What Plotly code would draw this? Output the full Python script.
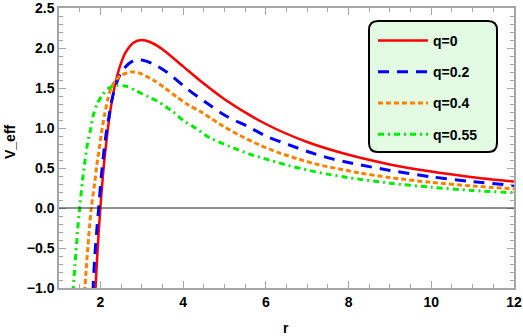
import plotly.graph_objects as go

# ---- data ----
r_q0 = [1.87, 1.9, 1.95, 2.0, 2.05, 2.1, 2.2, 2.3, 2.4, 2.5, 2.6, 2.8, 3.0, 3.2, 3.5, 4.0, 4.5, 5.0, 6.0, 7.0, 8.0, 9.0, 10.0, 11.0, 12.0]
v_q0 = [-1.13, -0.83, -0.38, 0.0, 0.33, 0.61, 1.065, 1.40, 1.64, 1.81, 1.935, 2.065, 2.10, 2.075, 1.985, 1.77, 1.555, 1.36, 1.05, 0.825, 0.665, 0.545, 0.455, 0.385, 0.33]

r_q02 = [1.82, 1.86, 1.91, 1.96, 2.02, 2.08, 2.14, 2.2, 2.27, 2.35, 2.44, 2.55, 2.7, 2.84, 3.0, 3.24, 3.6, 4.12, 4.52, 5.04, 5.56, 6.04, 6.56, 7.04, 7.56, 8.08, 9.0, 10.0, 11.0, 12.0]
v_q02 = [-1.05, -0.65, -0.30, 0.0, 0.38, 0.68, 0.93, 1.12, 1.33, 1.50, 1.63, 1.73, 1.81, 1.85, 1.85, 1.81, 1.70, 1.48, 1.33, 1.15, 1.02, 0.89, 0.79, 0.70, 0.62, 0.56, 0.47, 0.39, 0.33, 0.28]

r_q04 = [1.62, 1.66, 1.70, 1.74, 1.78, 1.86, 1.91, 1.97, 2.03, 2.10, 2.18, 2.26, 2.36, 2.5, 2.76, 2.92, 3.28, 3.56, 3.84, 4.12, 4.44, 4.88, 5.36, 5.84, 6.32, 6.80, 7.28, 7.76, 8.24, 9.0, 10.0, 11.0, 12.0]
v_q04 = [-1.05, -0.75, -0.48, -0.22, 0.0, 0.30, 0.52, 0.73, 0.95, 1.16, 1.36, 1.50, 1.59, 1.66, 1.70, 1.69, 1.60, 1.50, 1.39, 1.29, 1.20, 1.05, 0.91, 0.79, 0.69, 0.61, 0.54, 0.49, 0.44, 0.38, 0.32, 0.275, 0.24]

r_q055 = [1.34, 1.38, 1.41, 1.45, 1.50, 1.57, 1.63, 1.69, 1.75, 1.83, 1.93, 2.06, 2.21, 2.4, 2.64, 2.88, 3.16, 3.40, 3.76, 4.04, 4.24, 4.64, 5.12, 5.6, 6.08, 6.56, 7.04, 7.52, 8.0, 9.0, 10.0, 11.0, 12.0]
v_q055 = [-1.05, -0.75, -0.55, -0.28, 0.0, 0.35, 0.60, 0.81, 0.95, 1.16, 1.31, 1.42, 1.50, 1.53, 1.52, 1.46, 1.39, 1.33, 1.20, 1.08, 1.02, 0.88, 0.77, 0.675, 0.60, 0.53, 0.47, 0.42, 0.38, 0.31, 0.26, 0.22, 0.19]

names = ["q=0", "q=0.2", "q=0.4", "q=0.55"]
xs = [r_q0, r_q02, r_q04, r_q055]
ys = [v_q0, v_q02, v_q04, v_q055]
colors = ["#ff0000", "#0000ff", "#ff8000", "#00ee00"]
dashes = ["solid", "11px,8px", "5px,3px", "6px,4px,2px,4px"]
widths = [2.5, 3, 3, 3]

x_ticks = [2, 4, 6, 8, 10, 12]
y_ticks = [-1.0, -0.5, 0.0, 0.5, 1.0, 1.5, 2.0, 2.5]

fig = go.Figure()
for i in range(4):
    fig.add_trace(go.Scatter(
        x=xs[i], y=ys[i], mode="lines", name=names[i],
        legendgroup=names[i],
        line=dict(color=colors[i], width=widths[i], dash=dashes[i],
                  shape="spline", smoothing=0.8),
    ))

W, H = 523, 336
L, R, T, B = 59, 9, 8, 48
pw, ph = W - L - R, H - T - B

def px_x(p):
    return (p - L) / pw

def px_y(p):
    return (H - B - p) / ph

axis_common = dict(
    showline=True, mirror="ticks", linecolor="#a6a6a6", linewidth=1.5,
    ticks="inside", ticklen=7, tickwidth=1, tickcolor="#a6a6a6",
    showgrid=False, automargin=False, ticklabeloverflow="allow",
    tickfont=dict(family="Liberation Sans, Arial", size=14, color="black", weight="bold"),
)

fig.update_xaxes(range=[1, 12], tickvals=x_ticks, ticktext=[str(v) for v in x_ticks],
                 minor=dict(dtick=0.5, tick0=0, ticklen=4, tickcolor="#a6a6a6", ticks="inside"),
                 zeroline=False, **axis_common)
fig.update_yaxes(range=[-1, 2.5], tickvals=y_ticks,
                 ticktext=[("\u2212" if v < 0 else "") + f"{abs(v):.1f}" for v in y_ticks],
                 minor=dict(dtick=0.1, tick0=0, ticklen=4, tickcolor="#a6a6a6", ticks="inside"),
                 zeroline=False, **axis_common)

# horizontal axis line at V=0
fig.add_hline(y=0, line=dict(color="#222222", width=1))

# rounded legend box
x0, x1 = px_x(369), px_x(497)
y0, y1 = px_y(152), px_y(21)
rx, ry = 9 / pw, 9 / ph
path = (f"M {x0+rx},{y1} L {x1-rx},{y1} Q {x1},{y1} {x1},{y1-ry} "
        f"L {x1},{y0+ry} Q {x1},{y0} {x1-rx},{y0} L {x0+rx},{y0} "
        f"Q {x0},{y0} {x0},{y0+ry} L {x0},{y1-ry} Q {x0},{y1} {x0+rx},{y1} Z")
fig.add_shape(type="path", path=path, xref="paper", yref="paper",
              fillcolor="#e2fbe2", line=dict(color="black", width=2), layer="above")

fig.update_layout(
    width=W, height=H,
    margin=dict(l=L, r=R, t=T, b=B, autoexpand=False),
    paper_bgcolor="white", plot_bgcolor="white",
    showlegend=True,
    legend=dict(
        x=px_x(373), y=px_y(25), xanchor="left", yanchor="top",
        bgcolor="rgba(0,0,0,0)", borderwidth=0,
        font=dict(family="Liberation Sans, Arial", size=14, color="black", weight="bold"),
        tracegroupgap=10, itemwidth=50,
    ),
    annotations=[
        dict(text="V_eff", xref="paper", yref="paper", x=px_x(10), y=px_y(142),
             xanchor="center", yanchor="middle",
             showarrow=False, textangle=-90,
             font=dict(family="Liberation Sans, Arial", size=14, color="black", weight="bold")),
        dict(text="r", xref="paper", yref="paper", x=px_x(286), y=px_y(328),
             xanchor="center", yanchor="middle",
             showarrow=False,
             font=dict(family="Liberation Sans, Arial", size=14, color="black", weight="bold")),
    ],
)

fig.write_html("out.html", config={"displayModeBar": False},
               post_script="document.body.style.margin='0';")
